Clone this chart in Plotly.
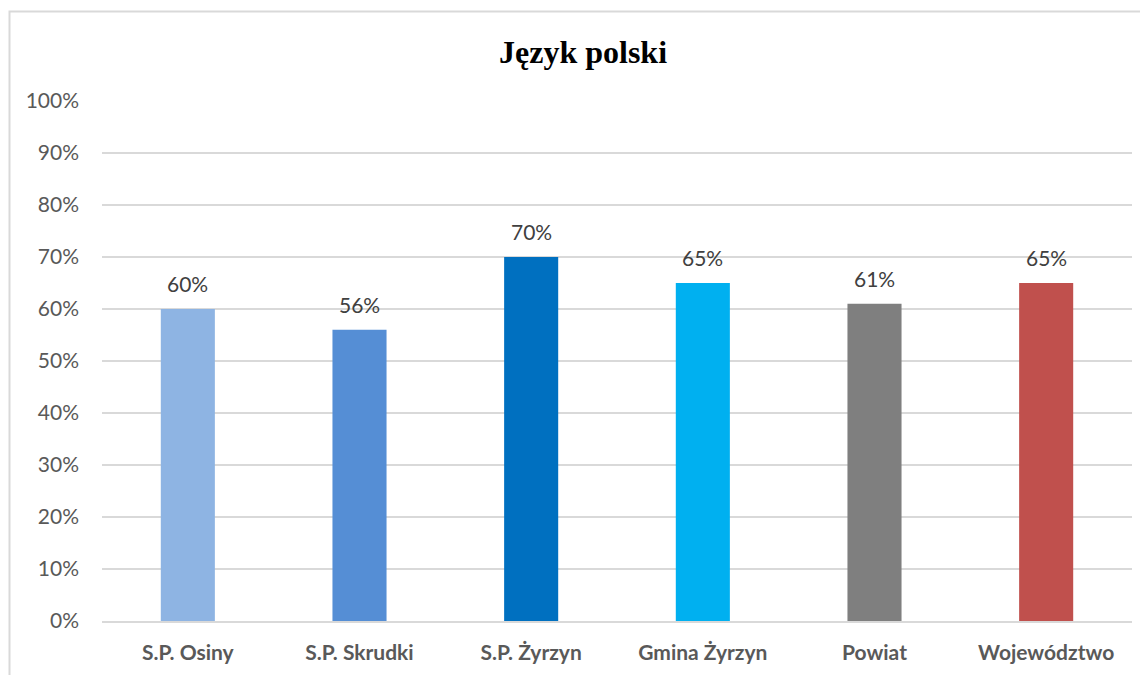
import plotly.graph_objects as go

categories = ["S.P. Osiny", "S.P. Skrudki", "S.P. Żyrzyn", "Gmina Żyrzyn", "Powiat", "Województwo"]
values = [0.60, 0.56, 0.70, 0.65, 0.61, 0.65]
colors = ["#8EB4E3", "#558ED5", "#0070C0", "#00B0F0", "#7F7F7F", "#C0504D"]
labels = ["60%", "56%", "70%", "65%", "61%", "65%"]
tickvals = [i / 10 for i in range(11)]
ticktext = [f"{i * 10}%" for i in range(11)]

OFF = 8  # page body margin
W, H = 1148, 675
# desired screen positions of plot area
PL, PR, PT, PB = 102, 1132, 101, 621
L, T = PL - OFF, PT - OFF
R = (W + OFF) - PR
B = (H + OFF) - PB
pw, ph = PR - PL, PB - PT

fig = go.Figure(go.Bar(
    x=categories, y=values, marker=dict(color=colors, line=dict(width=0)),
))

annotations = [
    dict(x=c, y=v, xref="x", yref="y", text=t, showarrow=False, yanchor="bottom",
         yshift=11, font=dict(family="Lato, Open Sans, sans-serif", size=21, color="#404040"))
    for c, v, t in zip(categories, values, labels)
]

fig.update_layout(
    width=W, height=H, autosize=False,
    margin=dict(l=L, r=R, t=T, b=B, pad=0),
    paper_bgcolor="white", plot_bgcolor="white",
    bargap=0.685, showlegend=False,
    annotations=annotations,
    title=dict(text="<b>Język polski</b>", x=(583 - PL) / pw, xref="paper", xanchor="center",
               y=1 - (52 - OFF) / H, yanchor="middle",
               font=dict(family="Liberation Serif, Times New Roman, serif", size=32, color="black")),
    xaxis=dict(showgrid=False, showline=True, linecolor="#D9D9D9", linewidth=1.5, ticks="",
               tickfont=dict(family="Lato, Open Sans, sans-serif", size=21, color="#595959", weight="bold"),
               ticklabelstandoff=12),
    yaxis=dict(range=[0, 1], tickvals=tickvals, ticktext=ticktext, showgrid=True,
               gridcolor="#D9D9D9", gridwidth=1.5, zeroline=False, ticks="",
               tickfont=dict(family="Lato, Open Sans, sans-serif", size=21, color="#595959"),
               ticklabelstandoff=22),
    shapes=[dict(type="rect", xref="paper", yref="paper",
                 x0=(9.5 - PL) / pw, x1=(1170 - PL) / pw,
                 y0=-(700 - PB) / ph, y1=(PB - 11.5) / ph,
                 line=dict(color="#D9D9D9", width=2), fillcolor="rgba(0,0,0,0)", layer="below")],
)

fig.write_html("out.html")
